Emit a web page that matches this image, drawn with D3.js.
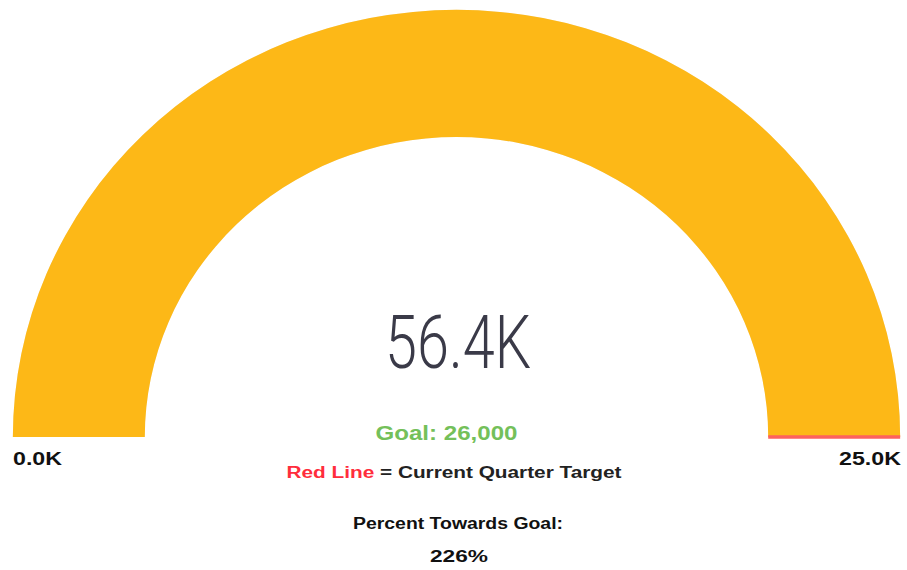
<!DOCTYPE html>
<html><head><meta charset="utf-8">
<script src="https://cdn.jsdelivr.net/npm/d3@7"></script>
<style>html,body{margin:0;padding:0;background:#fff;}svg{display:block;}</style>
</head><body>
<svg id="chart" width="907" height="570"></svg>
<script>
const gaugeMin = 0;
const gaugeMax = 25000;
const gaugeValue = 56400;
const targetValue = 25000;
const goalValue = 26000;
const minLabel = "0.0K";
const maxLabel = "25.0K";
const valueLabel = "56.4K";
const goalLabel = "Goal: 26,000";
const percentLabel = Math.round(gaugeValue / gaugeMax * 100) + "%";

const svg = d3.select("#chart");
const cx = 456.5, cy = 437;
const outerR = 427, innerR = 300, sx = 1.039;

const angle = d3.scaleLinear().domain([gaugeMin, gaugeMax]).range([-Math.PI/2, Math.PI/2]).clamp(true);

const g = svg.append("g").attr("transform", `translate(${cx},${cy}) scale(${sx},1)`);
const arc = d3.arc().innerRadius(innerR).outerRadius(outerR);
g.append("path").attr("d", arc({startAngle: -Math.PI/2, endAngle: Math.PI/2})).attr("fill", "#eeeeee");
g.append("path").attr("d", arc({startAngle: -Math.PI/2, endAngle: angle(gaugeValue)})).attr("fill", "#FDB817");

const ta = angle(targetValue);
g.append("line")
  .attr("x1", innerR*Math.sin(ta)).attr("y1", -innerR*Math.cos(ta))
  .attr("x2", outerR*Math.sin(ta)).attr("y2", -outerR*Math.cos(ta))
  .attr("stroke", "#FD625E").attr("stroke-width", 3.5).attr("vector-effect","non-scaling-stroke");

function txt(x, y, s, size, weight, fill, anchor, len, family) {
  const t = svg.append("text").attr("x", x).attr("y", y)
    .attr("font-family", family || "'Liberation Sans', Arial, sans-serif")
    .attr("font-size", size).attr("font-weight", weight)
    .attr("fill", fill).attr("text-anchor", anchor).text(s);
  if (len) t.attr("textLength", len).attr("lengthAdjust", "spacingAndGlyphs");
  return t;
}

txt(458, 368, valueLabel, 74, 300, "#3a3a48", "middle", 146, "Roboto, 'Open Sans', sans-serif");
txt(446.5, 440, goalLabel, 20, "bold", "#74C05A", "middle", 142);
txt(13, 465, minLabel, 18, "bold", "#111", "start", 49);
txt(901, 465, maxLabel, 18, "bold", "#111", "end", 62);

const legend = svg.append("text").attr("x", 454).attr("y", 478)
  .attr("font-family", "'Liberation Sans', Arial, sans-serif").attr("font-size", 16).attr("font-weight", "bold")
  .attr("text-anchor", "middle").attr("textLength", 335).attr("lengthAdjust", "spacingAndGlyphs");
legend.append("tspan").attr("fill", "#FF2D3C").text("Red Line");
legend.append("tspan").attr("fill", "#222").text(" = Current Quarter Target");

txt(458, 529, "Percent Towards Goal:", 16, "bold", "#111", "middle", 210);
txt(459, 562, percentLabel, 17, "bold", "#111", "middle", 58);
</script>
</body></html>
